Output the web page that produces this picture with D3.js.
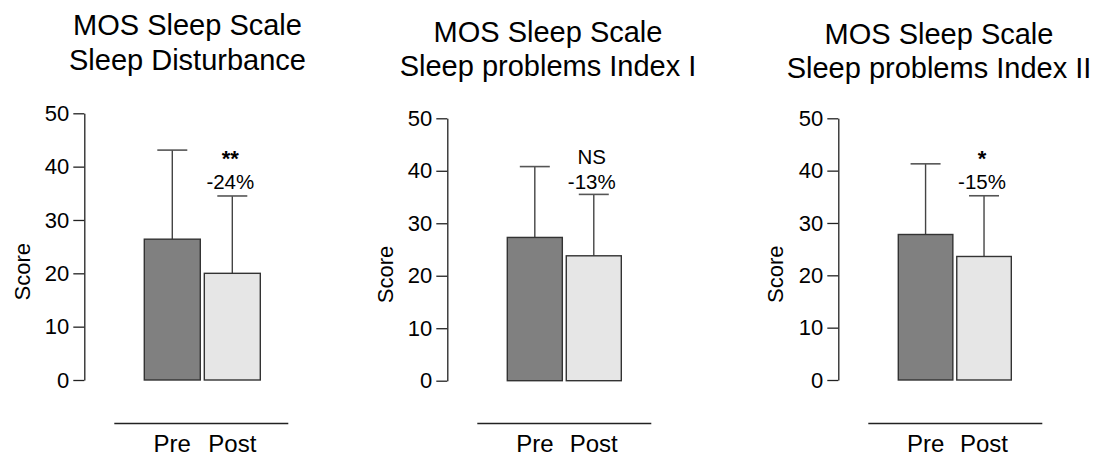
<!DOCTYPE html>
<html>
<head>
  <meta charset="utf-8"/>
  <title>MOS Sleep Scale</title>
  <style>
    body { margin: 0; background: #fff; }
    text { font-family: "Liberation Sans", Arial, sans-serif; fill: #000; }
  </style>
  <script src="https://d3js.org/d3.v7.min.js"></script>
</head>
<body>
<div id="chart"></div>
<script>
// data
var titles = [
  ["MOS  Sleep Scale", "Sleep Disturbance"],
  ["MOS Sleep Scale", "Sleep problems Index I"],
  ["MOS Sleep Scale", "Sleep problems Index II"]
];
var groups = ["Pre", "Post"];
var preMean = [26.4, 27.3, 27.8];
var preSD = [16.7, 13.5, 13.5];
var postMean = [20.0, 23.8, 23.6];
var postSD = [14.5, 11.7, 11.6];
var signif = ["**", "NS", "*"];
var change = ["-24%", "-13%", "-15%"];
var yTicks = [0, 10, 20, 30, 40, 50];

// layout of each panel (pixels)
var axisX = [84.3, 447.3, 838.3];
var yTop = [113.3, 118.3, 118.3];
var yBottom = [380, 380.7, 380];
var barEnd = [176, 174, 173];
var titleCX = [187.5, 548, 939];
var titleY = [35, 41.5, 43.5];
var scoreX = [22, 385, 775];

var width = 1099, height = 457;
var colors = { Pre: "#808080", Post: "#e6e6e6" };

var svg = d3.select("#chart").append("svg")
  .attr("width", width)
  .attr("height", height);

titles.forEach(function(t, i) {
  var g = svg.append("g");
  var ax = axisX[i];

  var y = d3.scaleLinear().domain([0, 50]).range([yBottom[i], yTop[i]]);
  var x = d3.scaleBand().domain(groups).range([ax + 60, ax + barEnd[i]]).paddingInner(0.067);

  // title, two lines
  var tt = g.append("text").attr("text-anchor", "middle").style("font-size", "29px");
  tt.append("tspan").attr("x", titleCX[i]).attr("y", titleY[i]).text(t[0]);
  tt.append("tspan").attr("x", titleCX[i]).attr("y", titleY[i] + 34.5).text(t[1]);

  // y axis
  var yAxis = g.append("g")
    .attr("transform", "translate(" + ax + ",0)")
    .call(d3.axisLeft(y).tickValues(yTicks).tickSize(11).tickPadding(4).tickSizeOuter(0));
  yAxis.attr("font-size", 22).attr("font-family", "'Liberation Sans', Arial, sans-serif");
  yAxis.select(".domain").attr("stroke", "#222").attr("stroke-width", 1.3);
  yAxis.selectAll(".tick line").attr("stroke", "#222").attr("stroke-width", 1.3);
  yAxis.selectAll(".tick text").style("font-size", "22px").attr("fill", "#000");

  // y label
  g.append("text")
    .attr("transform", "translate(" + scoreX[i] + "," + ((yTop[i] + yBottom[i]) / 2 + 25) + ") rotate(-90)")
    .attr("text-anchor", "middle").attr("dy", "0.35em")
    .style("font-size", "22px").text("Score");

  var rows = [
    { k: "Pre", m: preMean[i], sd: preSD[i] },
    { k: "Post", m: postMean[i], sd: postSD[i] }
  ];

  // error bars (upper only)
  rows.forEach(function(d) {
    var cx = x(d.k) + x.bandwidth() / 2;
    g.append("line").attr("x1", cx).attr("x2", cx)
      .attr("y1", y(d.m)).attr("y2", y(d.m + d.sd))
      .attr("stroke", "#444").attr("stroke-width", 1.4);
    g.append("line").attr("x1", cx - 15).attr("x2", cx + 15)
      .attr("y1", y(d.m + d.sd)).attr("y2", y(d.m + d.sd))
      .attr("stroke", "#555").attr("stroke-width", 1.6);
  });

  // bars
  g.selectAll("rect.bar").data(rows).enter().append("rect")
    .attr("class", "bar")
    .attr("x", function(d) { return x(d.k); })
    .attr("y", function(d) { return y(d.m); })
    .attr("width", x.bandwidth())
    .attr("height", function(d) { return y(0) - y(d.m); })
    .attr("fill", function(d) { return colors[d.k]; })
    .attr("stroke", "#333")
    .attr("stroke-width", 1.4);

  // annotation above post bar: significance + change
  var px = x("Post") + x.bandwidth() / 2 - 2;
  var isNS = signif[i] == "NS";
  var ann = g.append("text").attr("text-anchor", "middle").style("font-size", "20.5px");
  ann.append("tspan").attr("x", px).attr("y", isNS ? 164 : 166)
    .style("font-size", isNS ? "20.5px" : "22px")
    .style("font-weight", isNS ? "normal" : "bold")
    .text(signif[i]);
  ann.append("tspan").attr("x", px).attr("y", 189).text(change[i]);

  // bottom line and group labels
  g.append("line").attr("x1", ax + 30).attr("x2", ax + 204)
    .attr("y1", 423.5).attr("y2", 423.5)
    .attr("stroke", "#222").attr("stroke-width", 1.3);
  var lab = g.append("text").attr("text-anchor", "middle").style("font-size", "24px");
  groups.forEach(function(k) {
    lab.append("tspan").attr("x", x(k) + x.bandwidth() / 2).attr("y", 451.5).text(k);
  });
});
</script>
</body>
</html>
